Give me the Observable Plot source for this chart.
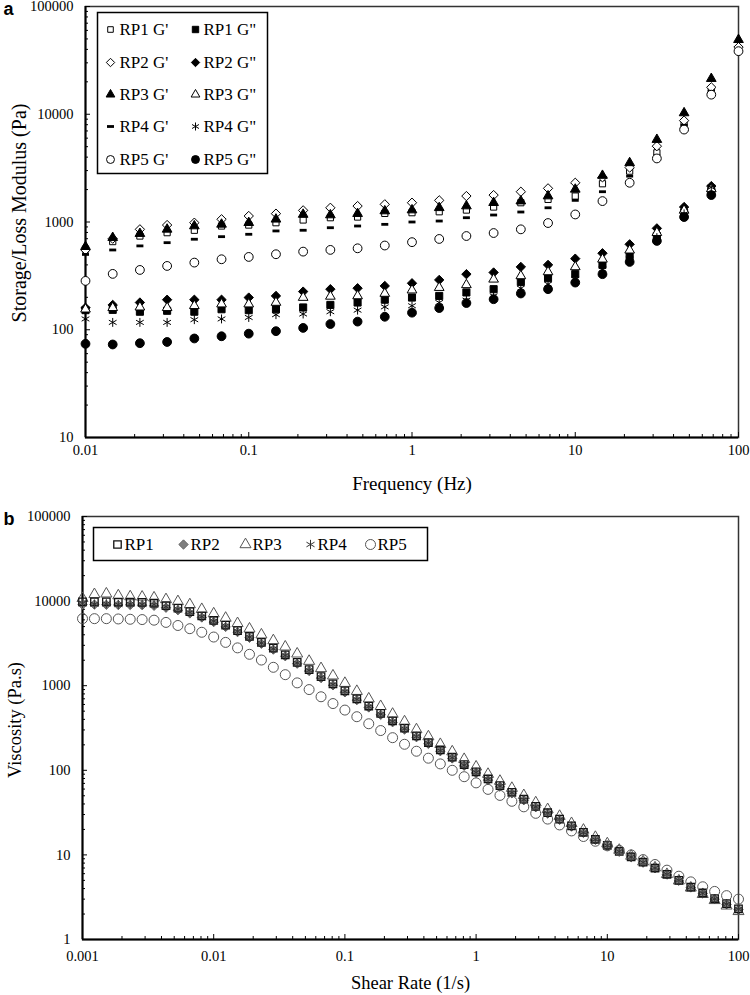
<!DOCTYPE html>
<html><head><meta charset="utf-8">
<script src="https://cdn.jsdelivr.net/npm/d3@7"></script>
<script src="https://cdn.jsdelivr.net/npm/@observablehq/plot@0.6"></script>
<style>
html,body{margin:0;padding:0;background:#fff;overflow:hidden;}
#wrap{position:relative;width:750px;height:995px;}
#wrap svg{display:block;}
.ytitle{position:absolute;transform:translate(-50%,-50%) rotate(-90deg);white-space:nowrap;font-family:'Liberation Serif','Times New Roman',serif;color:#000;line-height:1;}
</style></head><body><div id="wrap"></div>
<script>
// ---------- Panel a data ----------
const frequency = [0.01,0.01468,0.02154,0.03162,0.04642,0.06813,0.1,0.1468,0.2154,0.3162,0.4642,0.6813,1,1.468,2.154,3.162,4.642,6.813,10,14.68,21.54,31.62,46.42,68.13,100];
const rp1Gp  = [560,658,741,796,838,918,937,985,1044,1096,1112,1202,1220,1245,1291,1377,1510,1622,1741,2265,2965,4385,7900,17000,40000];
const rp2Gp  = [550,700,855,937,985,1060,1137,1195,1282,1355,1406,1459,1510,1588,1741,1778,1910,2052,2312,2600,3200,5055,8730,17780,42000];
const rp3Gp  = [590,716,780,855,918,951,985,1060,1175,1161,1195,1265,1291,1355,1406,1510,1563,1741,2009,2700,3540,5820,10280,21400,49200];
const rp4Gp  = [500,550,600,643,692,731,769,826,838,885,918,951,1000,1021,1096,1161,1238,1355,1588,1910,2665,4100,7900,16300,40000];
const rp5Gp  = [284,330,359,391,420,451,474,502,531,551,570,605,650,696,741,790,855,978,1175,1563,2312,3890,7210,15200,38500];
const rp1Gpp = [152,153,147,150,147,155,152,155,161,170,179,190,199,206,222,238,278,301,328,400,484,741,1219,1936];
const rp2Gpp = [160,170,179,190,190,190,199,206,226,238,243,255,270,290,328,340,383,400,457,513,621,873,1377,2154];
const rp3Gpp = [155,160,162,160,167,173,173,179,199,204,206,217,233,246,261,294,316,344,383,451,547,796,1282,2030];
const rp4Gpp = [126,117,117,117,124,126,130,138,140,147,152,163,167,179,188,206,243,265,294,365,451,716,1190,2100];
const rp5Gpp = [74,73,75,77,83,87,92,97,104,113,119,132,144,159,177,192,217,238,274,328,426,667,1112,1778];
const xTicksA = [0.01,0.1,1,10,100];
const yTicksA = [10,100,1000,10000,100000];

// ---------- Panel b data ----------
const shearRate = [0.001,0.001233,0.00152,0.001874,0.00231,0.002848,0.003511,0.004329,0.005337,0.006579,0.008111,
  0.01,0.01233,0.0152,0.01874,0.0231,0.02848,0.03511,0.04329,0.05337,0.06579,0.08111,
  0.1,0.1233,0.152,0.1874,0.231,0.2848,0.3511,0.4329,0.5337,0.6579,0.8111,
  1,1.233,1.52,1.874,2.31,2.848,3.511,4.329,5.337,6.579,8.111,
  10,12.33,15.2,18.74,23.1,28.48,35.11,43.29,53.37,65.79,81.11,100];
const rp1Visc = [9800,9800,9800,9750,9700,9650,9450,8850,8250,7500,6700,
  5900,5190,4480,3820,3250,2780,2320,1890,1550,1280,1050,
  870,700,575,470,385,315,255,213,174,143,117,
  96,79,66,55,45.5,37.5,31.5,26.5,22,18.5,15.3,
  13,11,9.5,8.2,7.0,5.9,5.0,4.15,3.55,3.05,2.65,2.3];
const rp2Visc = [9100,9100,9050,9000,9000,8950,8800,8350,7800,7150,6400,
  5650,4950,4300,3680,3130,2670,2230,1820,1490,1230,1010,
  835,675,553,452,370,303,246,205,168,138,113,
  93,76.5,64,53.5,44.3,36.6,30.8,26,21.6,18.2,15.1,
  12.8,10.9,9.4,8.1,6.95,5.85,4.95,4.12,3.5,3.0,2.6,2.25];
const rp3Visc = [10800,12000,12200,11600,11300,11200,10950,10450,9900,9100,8000,
  7100,6300,5450,4700,4000,3420,2880,2380,1950,1600,1310,
  1070,860,700,570,462,376,303,250,203,166,135,
  110,90,74.5,61.5,50.5,41.5,34.5,28.7,23.6,19.7,16.2,
  13.6,11.4,9.7,8.3,7.05,5.9,4.95,4.08,3.42,2.9,2.5,2.15];
const rp4Visc = [9400,9200,9300,9100,9250,9150,9100,8600,8050,7350,6550,
  5800,5100,4400,3760,3200,2730,2280,1860,1520,1260,1035,
  855,690,566,462,378,310,251,210,171,141,115,
  94.5,78,65,54.3,45,37,31.2,26.2,21.8,18.4,15.2,
  12.9,11,9.45,8.15,7.0,5.9,5.0,4.15,3.52,3.02,2.62,2.28];
const rp5Visc = [6200,6200,6200,6150,6100,6050,5950,5600,5150,4720,4280,
  3760,3250,2800,2350,2010,1650,1350,1080,900,740,615,
  515,430,355,295,243,203,168,139,119,100,84,
  71,59.5,50.5,43,37,31,26.5,22.6,19.2,16.5,14.5,
  12.8,11.3,10,8.8,7.7,6.6,5.6,4.8,4.2,3.7,3.3,3.0];
const xTicksB = [0.001,0.01,0.1,1,10,100];
const yTicksB = [1,10,100,1000,10000,100000];

// ---------- helpers ----------
const pts = (xs, ys) => ys.map((v, i) => ({x: xs[i], y: v}));
const minorTicks = majors => { const out = []; for (let i = 0; i < majors.length - 1; i++) for (let k = 2; k <= 9; k++) out.push(majors[i] * k); return out; };
const dashSymbol = {draw(ctx) { ctx.moveTo(-3.5, -1.4); ctx.lineTo(3.5, -1.4); ctx.lineTo(3.5, 1.4); ctx.lineTo(-3.5, 1.4); ctx.closePath(); }};
const SERIF = "'Liberation Serif', 'Times New Roman', serif";

function axesMarks(xMaj, yMaj, fw, fh, xPad, yPad) {
  return [
    Plot.frame({stroke: "#333", strokeWidth: 1.5}),
    Plot.ruleX([xMaj[0]], {stroke: "black", strokeWidth: 2}),
    Plot.ruleY([yMaj[0]], {stroke: "black", strokeWidth: 2}),
    Plot.tickX(minorTicks(xMaj), {x: d => d, insetTop: fh - 3, stroke: "black"}),
    Plot.tickX(xMaj, {x: d => d, insetTop: fh - 5, stroke: "black"}),
    Plot.tickY(minorTicks(yMaj), {y: d => d, insetRight: fw - 3, stroke: "black"}),
    Plot.tickY(yMaj, {y: d => d, insetRight: fw - 5, stroke: "black"}),
    Plot.axisX({ticks: xMaj, tickSize: 0, tickPadding: xPad, tickFormat: d => String(d), label: null, fontSize: 14.5}),
    Plot.axisY({ticks: yMaj, tickSize: 0, tickPadding: yPad, tickFormat: d => String(d), label: null, fontSize: 14.5})
  ];
}

// ---------- Panel a ----------
const WA = 750, HA = 500, mA = {t: 6, r: 12, b: 63, l: 85};
const fwA = WA - mA.l - mA.r, fhA = HA - mA.t - mA.b;
const seriesA = [
  {label: "RP1 G'",  vals: rp1Gp,  symbol: "square",   r: 3.5, fill: "white", stroke: "black"},
  {label: "RP1 G\"", vals: rp1Gpp, symbol: "square",   r: 4,   fill: "black", stroke: "black"},
  {label: "RP2 G'",  vals: rp2Gp,  symbol: "diamond2", r: 4.2, fill: "white", stroke: "black"},
  {label: "RP2 G\"", vals: rp2Gpp, symbol: "diamond2", r: 4.2, fill: "black", stroke: "black"},
  {label: "RP3 G'",  vals: rp3Gp,  symbol: "triangle", r: 3.6, fill: "black", stroke: "black"},
  {label: "RP3 G\"", vals: rp3Gpp, symbol: "triangle", r: 3.6, fill: "white", stroke: "black"},
  {label: "RP4 G'",  vals: rp4Gp,  symbol: dashSymbol, r: 3,  fill: "black", stroke: "none"},
  {label: "RP4 G\"", vals: rp4Gpp, symbol: "asterisk", r: 4.2, fill: "none",  stroke: "black"},
  {label: "RP5 G'",  vals: rp5Gp,  symbol: "circle",   r: 4.4, fill: "white", stroke: "black"},
  {label: "RP5 G\"", vals: rp5Gpp, symbol: "circle",   r: 4.4, fill: "black", stroke: "black"}
];
const marksA = [...axesMarks(xTicksA, yTicksA, fwA, fhA, 7, 12)];
for (const s of seriesA) marksA.push(Plot.dot(pts(frequency, s.vals), {x: "x", y: "y", symbol: s.symbol, r: s.r, fill: s.fill, stroke: s.stroke, strokeWidth: 1}));
marksA.push(Plot.frame({insetLeft: 12, insetTop: 6, insetRight: 471, insetBottom: 264, fill: "white", stroke: "black", strokeWidth: 1.5}));
const rowYA = [23, 56, 88, 120, 153];
seriesA.forEach((s, i) => {
  const col = i % 2, row = Math.floor(i / 2);
  const mx = col ? 110 : 25, tx = col ? 118 : 34;
  marksA.push(Plot.dot([0], {frameAnchor: "top-left", dx: mx, dy: rowYA[row], symbol: s.symbol, r: s.r * 0.9, fill: s.fill, stroke: s.stroke, strokeWidth: 1}));
  marksA.push(Plot.text([s.label], {frameAnchor: "top-left", dx: tx, dy: rowYA[row], text: d => d, textAnchor: "start", lineAnchor: "middle", fontSize: 17, fill: "black"}));
});
marksA.push(Plot.text(["a"], {frameAnchor: "top-left", dx: -82, dy: 3, text: d => d, textAnchor: "start", lineAnchor: "middle", fontSize: 18, fontWeight: "bold", fontFamily: "'Liberation Sans', Arial, sans-serif", fill: "black"}));
marksA.push(Plot.text(["Frequency (Hz)"], {frameAnchor: "bottom", dy: 46, text: d => d, lineAnchor: "middle", fontSize: 19, fill: "black"}));

const plotA = Plot.plot({
  width: WA, height: HA, marginTop: mA.t, marginRight: mA.r, marginBottom: mA.b, marginLeft: mA.l,
  x: {type: "log", domain: [0.01, 100]},
  y: {type: "log", domain: [10, 100000]},
  style: {fontFamily: SERIF, fontSize: "15px", overflow: "visible", background: "white", color: "black"},
  marks: marksA
});

// ---------- Panel b ----------
const WB = 750, HB = 495, mB = {t: 16, r: 12, b: 56, l: 82};
const fwB = WB - mB.l - mB.r, fhB = HB - mB.t - mB.b;
const seriesB = [
  {label: "RP1", vals: rp1Visc, symbol: "square",   r: 4.2, fill: "none",    stroke: "#111", sw: 1.3},
  {label: "RP2", vals: rp2Visc, symbol: "diamond2", r: 4.2, fill: "#7f7f7f", stroke: "#666", sw: 1},
  {label: "RP3", vals: rp3Visc, symbol: "triangle", r: 4.1, fill: "none",    stroke: "#555", sw: 1},
  {label: "RP4", vals: rp4Visc, symbol: "asterisk", r: 4.4, fill: "none",    stroke: "#333", sw: 1},
  {label: "RP5", vals: rp5Visc, symbol: "circle",   r: 5,   fill: "none",    stroke: "#555", sw: 1}
];
const drawOrder = [1, 2, 0, 3, 4];
const marksB = [...axesMarks(xTicksB, yTicksB, fwB, fhB, 11, 12)];
for (const i of drawOrder) { const s = seriesB[i]; marksB.push(Plot.dot(pts(shearRate, s.vals), {x: "x", y: "y", symbol: s.symbol, r: s.r, fill: s.fill, stroke: s.stroke, strokeWidth: s.sw})); }
marksB.push(Plot.frame({insetLeft: 11, insetTop: 11, insetRight: 311, insetBottom: 379, fill: "white", stroke: "black", strokeWidth: 1.5}));
const legXB = [35, 101, 163, 228, 288];
seriesB.forEach((s, i) => {
  marksB.push(Plot.dot([0], {frameAnchor: "top-left", dx: legXB[i], dy: 28, symbol: s.symbol, r: s.r, fill: s.fill, stroke: s.stroke, strokeWidth: s.sw}));
  marksB.push(Plot.text([s.label], {frameAnchor: "top-left", dx: legXB[i] + 7, dy: 28, text: d => d, textAnchor: "start", lineAnchor: "middle", fontSize: 17, fill: "black"}));
});
marksB.push(Plot.text(["b"], {frameAnchor: "top-left", dx: -79, dy: 3, text: d => d, textAnchor: "start", lineAnchor: "middle", fontSize: 18, fontWeight: "bold", fontFamily: "'Liberation Sans', Arial, sans-serif", fill: "black"}));
marksB.push(Plot.text(["Shear Rate (1/s)"], {frameAnchor: "bottom", dy: 44, text: d => d, lineAnchor: "middle", fontSize: 18.5, fill: "black"}));

const plotB = Plot.plot({
  width: WB, height: HB, marginTop: mB.t, marginRight: mB.r, marginBottom: mB.b, marginLeft: mB.l,
  x: {type: "log", domain: [0.001, 100]},
  y: {type: "log", domain: [1, 100000]},
  style: {fontFamily: SERIF, fontSize: "15px", overflow: "visible", background: "white", color: "black"},
  marks: marksB
});

const wrap = document.getElementById("wrap");
wrap.appendChild(plotA);
wrap.appendChild(plotB);

// rotated y-axis titles placed beside each panel's frame
function yTitle(text, cx, cy, size) {
  const d = document.createElement("div");
  d.className = "ytitle";
  d.textContent = text;
  d.style.left = cx + "px";
  d.style.top = cy + "px";
  d.style.fontSize = size + "px";
  wrap.appendChild(d);
}
yTitle("Storage/Loss Modulus (Pa)", 19, 213, 20);
yTitle("Viscosity (Pa.s)", 15, 720, 18.5);
</script></body></html>
